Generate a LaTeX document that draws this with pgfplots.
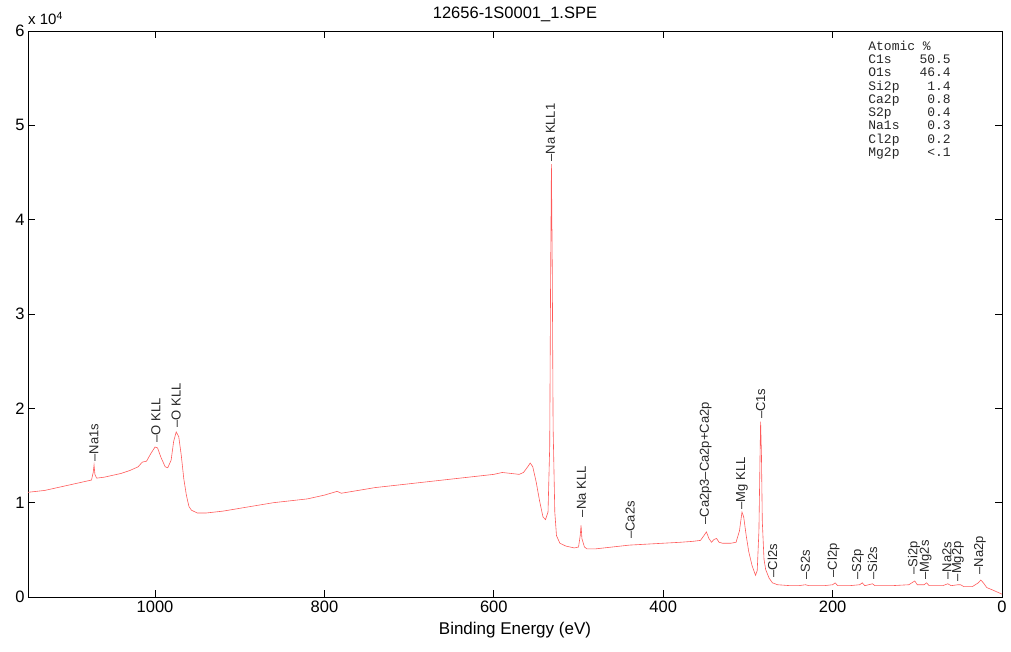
\documentclass[border=0pt]{standalone}
\usepackage{pgfplots}
\pgfplotsset{compat=1.18}
\usepackage{fontspec}
\setmainfont{Liberation Sans}
\newfontfamily\monofont{Liberation Mono}
\definecolor{spec}{RGB}{255,90,90}
\tikzset{lab/.style={rotate=90, anchor=west, inner sep=0.5pt, font=\fontsize{13}{15}\selectfont, text=black!85}}
\begin{document}
\begin{tikzpicture}
\begin{axis}[name=ax,
 scale only axis, width=974pt, height=566pt,
 x dir=reverse, xmin=0, xmax=1150, ymin=0, ymax=6,
 xtick={0,200,...,1000}, ytick={0,...,6},
 tick align=inside, major tick length=7pt,
 tick style={black, line width=0.8pt},
 axis line style={line width=0.9pt},
 ticklabel style={font=\fontsize{16.5}{18}\selectfont},
 /pgf/number format/assume math mode=true,
 /pgf/number format/1000 sep={},
 xlabel={Binding Energy (eV)},
 xlabel style={font=\fontsize{17}{19}\selectfont, yshift=-3pt},
 title={12656-1S0001\_1.SPE},
 title style={font=\fontsize{16.5}{18}\selectfont, yshift=0pt},
 clip mode=individual,
]
\addplot[spec, line width=0.6pt] coordinates {
(1150,1.11)(1140,1.12)(1130,1.13)(1120,1.15)(1110,1.17)(1100,1.19)(1090,1.21)(1080,1.23)(1075,1.24)
(1073,1.32)(1072,1.40)(1071,1.30)(1069,1.26)(1060,1.27)(1050,1.29)(1040,1.31)(1030,1.34)(1020,1.38)
(1015,1.43)(1010,1.44)(1005,1.52)(1000,1.59)(997,1.58)(993,1.48)(988,1.38)(985,1.37)(981,1.45)
(978,1.65)(975,1.75)(972,1.70)(969,1.50)(966,1.25)(963,1.08)(960,0.96)(957,0.92)(950,0.89)
(940,0.89)(930,0.90)(920,0.91)(900,0.94)(880,0.97)(860,1.00)(840,1.02)(820,1.04)(800,1.08)
(785,1.12)(780,1.10)(760,1.13)(740,1.16)(720,1.18)(700,1.20)(680,1.22)(660,1.24)(640,1.26)
(620,1.28)(600,1.30)(590,1.32)(580,1.31)(570,1.30)(565,1.32)(560,1.38)(557,1.42)(554,1.38)
(550,1.22)(546,1.02)(542,0.85)(539,0.82)(536,0.90)(534,1.6)(533,3.3)(532,4.59)(531,3.5)(530,1.8)
(528,0.9)(526,0.65)(522,0.57)(515,0.54)(505,0.52)(500,0.53)(498,0.65)(497,0.76)(496,0.62)
(493,0.53)(490,0.51)(480,0.51)(470,0.52)(460,0.53)(440,0.55)(420,0.56)(400,0.57)(380,0.58)
(365,0.59)(356,0.60)(352,0.65)(349,0.69)(346,0.62)(343,0.58)(340,0.61)(337,0.62)(334,0.58)
(330,0.57)(320,0.57)(314,0.58)(310,0.70)(307,0.90)(305,0.85)(302,0.65)(299,0.48)(295,0.33)
(291,0.23)(289,0.28)(287,0.7)(285.5,1.6)(285,1.86)(284,1.5)(283,0.8)(281,0.4)(279,0.29)
(275,0.20)(271,0.15)(265,0.13)(250,0.12)(240,0.12)(232,0.13)(228,0.12)(210,0.12)(200,0.13)
(197,0.15)(194,0.12)(180,0.12)(168,0.13)(165,0.15)(162,0.12)(153,0.14)(150,0.12)(130,0.12)
(110,0.13)(103,0.17)(100,0.13)(92,0.13)(89,0.15)(86,0.12)(70,0.12)(64,0.14)(60,0.12)(52,0.13)
(49,0.13)(45,0.11)(35,0.11)(28,0.15)(25,0.18)(22,0.15)(18,0.10)(10,0.07)(5,0.05)(0,0.03)
};
\node[lab] at (axis cs:1072,1.43) {–Na1s};
\node[lab] at (axis cs:999,1.63) {–O KLL};
\node[lab] at (axis cs:975,1.79) {–O KLL};
\node[lab] at (axis cs:533,4.61) {–Na KLL1};
\node[lab] at (axis cs:496.5,0.84) {–Na KLL};
\node[lab] at (axis cs:439,0.61) {–Ca2s};
\node[lab] at (axis cs:350,0.76) {–Ca2p3–Ca2p+Ca2p};
\node[lab] at (axis cs:307,0.92) {–Mg KLL};
\node[lab] at (axis cs:285,1.88) {–C1s};
\node[lab] at (axis cs:271,0.20) {–Cl2s};
\node[lab] at (axis cs:232,0.18) {–S2s};
\node[lab] at (axis cs:199,0.20) {–Cl2p};
\node[lab] at (axis cs:170,0.18) {–S2p};
\node[lab] at (axis cs:153,0.18) {–Si2s};
\node[lab] at (axis cs:104,0.23) {–Si2p};
\node[lab] at (axis cs:90,0.18) {–Mg2s};
\node[lab] at (axis cs:65,0.18) {–Na2s};
\node[lab] at (axis cs:52,0.16) {–Mg2p};
\node[lab] at (axis cs:26,0.23) {–Na2p};
\node[anchor=north west, inner sep=0pt, font=\monofont\fontsize{13}{13.3}\selectfont, text=black!85]
 at (axis cs:158,5.90) {\begin{tabular}{@{}l@{\hspace{20pt}}r@{}}
\multicolumn{2}{@{}l@{}}{Atomic \%}\\
C1s & 50.5\\ O1s & 46.4\\ Si2p & 1.4\\ Ca2p & 0.8\\ S2p & 0.4\\ Na1s & 0.3\\ Cl2p & 0.2\\ Mg2p & <.1
\end{tabular}};
\node[anchor=south west, inner sep=0pt, font=\fontsize{15}{17}\selectfont] at (rel axis cs:0,1) [yshift=6pt] {x 10\textsuperscript{4}};
\end{axis}
\pgfresetboundingbox
\path[use as bounding box] ([shift={(-28pt,-55pt)}]ax.south west) rectangle ([shift={(9pt,31pt)}]ax.north east);
\end{tikzpicture}
\end{document}
